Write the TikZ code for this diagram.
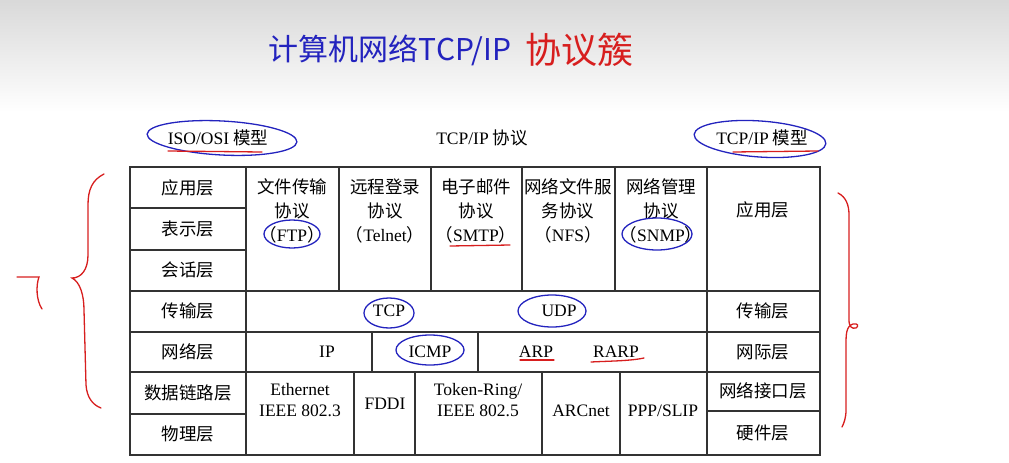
\documentclass[tikz,border=0pt]{standalone}
\usepackage{fontspec}
\setmainfont{Liberation Serif}
\newfontfamily\cjk{Noto Sans CJK SC}
\usetikzlibrary{positioning}

\definecolor{penblue}{RGB}{35,35,190}
\definecolor{penred}{RGB}{215,30,30}
\newcommand{\en}[1]{{\rmfamily #1}}

\begin{document}
\begin{tikzpicture}[
    x=1pt, y=-1pt,
    cell/.style={font=\cjk\fontsize{17.5}{24}\selectfont, align=center, inner sep=0pt},
    encell/.style={font=\fontsize{17.5}{21}\selectfont, align=center, inner sep=0pt},
    grid/.style={draw=black!80, line width=1.6pt},
    bluering/.style={draw=penblue, line width=1.3pt},
    redline/.style={draw=penred, line width=1.3pt, line cap=round},
    hand/.style={font=\cjk, inner sep=0pt}
]

% Background
\useasboundingbox (0,0) rectangle (1009,463);
\shade[top color=black!15, bottom color=white] (0,0) rectangle (1009,112);

% Title
\node (title) [hand, text=penblue, font=\cjk\fontsize{30}{30}\selectfont] at (390,50) {计算机网络TCP/IP};
\node (titlered) [hand, text=penred, font=\cjk\fontsize{36}{36}\selectfont, right=14 of title] {协议簇};

% Header
\node (osi) [cell] at (218,138) {\en{ISO/OSI} 模型};
\node (proto) [cell] at (482,138) {\en{TCP/IP} 协议};
\node (tcpipm) [cell] at (762,138) {\en{TCP/IP} 模型};

% Table lines
\draw [grid] (130,167) rectangle (820,455);
\draw [grid] (246,167) -- (246,455);
\draw [grid] (707,167) -- (707,455);
\draw [grid] (130,208) -- (246,208);
\draw [grid] (130,250) -- (246,250);
\draw [grid] (130,291) -- (820,291);
\draw [grid] (130,332) -- (820,332);
\draw [grid] (130,372) -- (820,372);
\draw [grid] (130,414) -- (246,414);
\draw [grid] (707,411) -- (820,411);
\draw [grid] (339,167) -- (339,291);
\draw [grid] (431,167) -- (431,291);
\draw [grid] (522,167) -- (522,291);
\draw [grid] (615,167) -- (615,291);
\draw [grid] (372,332) -- (372,372);
\draw [grid] (478,332) -- (478,372);
\draw [grid] (354,372) -- (354,455);
\draw [grid] (415,372) -- (415,455);
\draw [grid] (542,372) -- (542,455);
\draw [grid] (620,372) -- (620,455);

% ISO/OSI layers
\node (app) [cell] at (188,188) {应用层};
\node (pres) [cell] at (188,229) {表示层};
\node (sess) [cell] at (188,270) {会话层};
\node (trans) [cell] at (188,311) {传输层};
\node (net) [cell] at (188,352) {网络层};
\node (link) [cell] at (188,393) {数据链路层};
\node (phys) [cell] at (188,434) {物理层};

% Protocols
\node (ftp) [cell] at (292,211) {文件传输\\协议\\（\en{FTP}）};
\node (telnet) [cell] at (385,211) {远程登录\\协议\\（\en{Telnet}）};
\node (smtp) [cell] at (476,211) {电子邮件\\协议\\（\en{SMTP}）};
\node (nfs) [cell] at (568,211) {网络文件服\\务协议\\（\en{NFS}）};
\node (snmp) [cell] at (661,211) {网络管理\\协议\\（\en{SNMP}）};

\node (tcp) [encell] at (389,311) {TCP};
\node (udp) [encell] at (559,311) {UDP};

\node (ip) [encell] at (327,352) {IP};
\node (icmp) [encell] at (430,352) {ICMP};
\node (arp) [encell] at (536,352) {ARP};
\node (rarp) [encell] at (616,352) {RARP};

\node (eth) [encell] at (300,400) {Ethernet\\IEEE 802.3};
\node (fddi) [encell] at (385,404) {FDDI};
\node (token) [encell] at (478,400) {Token-Ring/\\IEEE 802.5};
\node (arcnet) [encell] at (581,411) {ARCnet};
\node (ppp) [encell] at (663,411) {PPP/SLIP};

% TCP/IP layers
\node (appr) [cell] at (763,210) {应用层};
\node (transr) [cell] at (763,311) {传输层};
\node (inetr) [cell] at (763,352) {网际层};
\node (linkr) [cell] at (763,391) {网络接口层};
\node (hwr) [cell] at (763,433) {硬件层};

% Pen marks
\draw [bluering, rotate around={-3:(222,138)}] (222,138) ellipse [x radius=75, y radius=17];
\draw [bluering, rotate around={-4:(760,139)}] (760,139) ellipse [x radius=66, y radius=18];
\draw [bluering] (292,234) ellipse [x radius=28, y radius=14];
\draw [bluering] (657,234) ellipse [x radius=35, y radius=16];
\draw [bluering] (389,313) ellipse [x radius=25, y radius=15];
\draw [bluering] (552,311) ellipse [x radius=34, y radius=16];
\draw [bluering] (430,350) ellipse [x radius=34, y radius=15];

\draw [redline] (168,151) -- (262,152);
\draw [redline] (733,152) -- (818,151);
\draw [redline] (450,246) -- (510,245);
\draw [redline] (520,360) -- (554,360);
\draw [redline] (591,362) .. controls (610,361) and (630,361) .. (644,358);

% Braces
\draw [redline] (104,174) .. controls (92,180) and (88,190) .. (88,205) -- (88,255)
    .. controls (88,270) and (81,278) .. (72,278)
    .. controls (80,282) and (84,295) .. (84,310) -- (86,385)
    .. controls (87,398) and (93,405) .. (101,408);
\draw [redline] (17,277) -- (39,277) .. controls (36,285) and (36,300) .. (42,309);
\draw [redline] (838,193) .. controls (846,197) and (849,205) .. (849,215) -- (849,320)
    .. controls (849,327) and (852,329) .. (856,328)
    .. controls (859,326) and (858,323) .. (853,324)
    .. controls (846,326) and (846,335) .. (846,345) -- (846,410)
    .. controls (846,418) and (844,423) .. (842,427);

\end{tikzpicture}
\end{document}
